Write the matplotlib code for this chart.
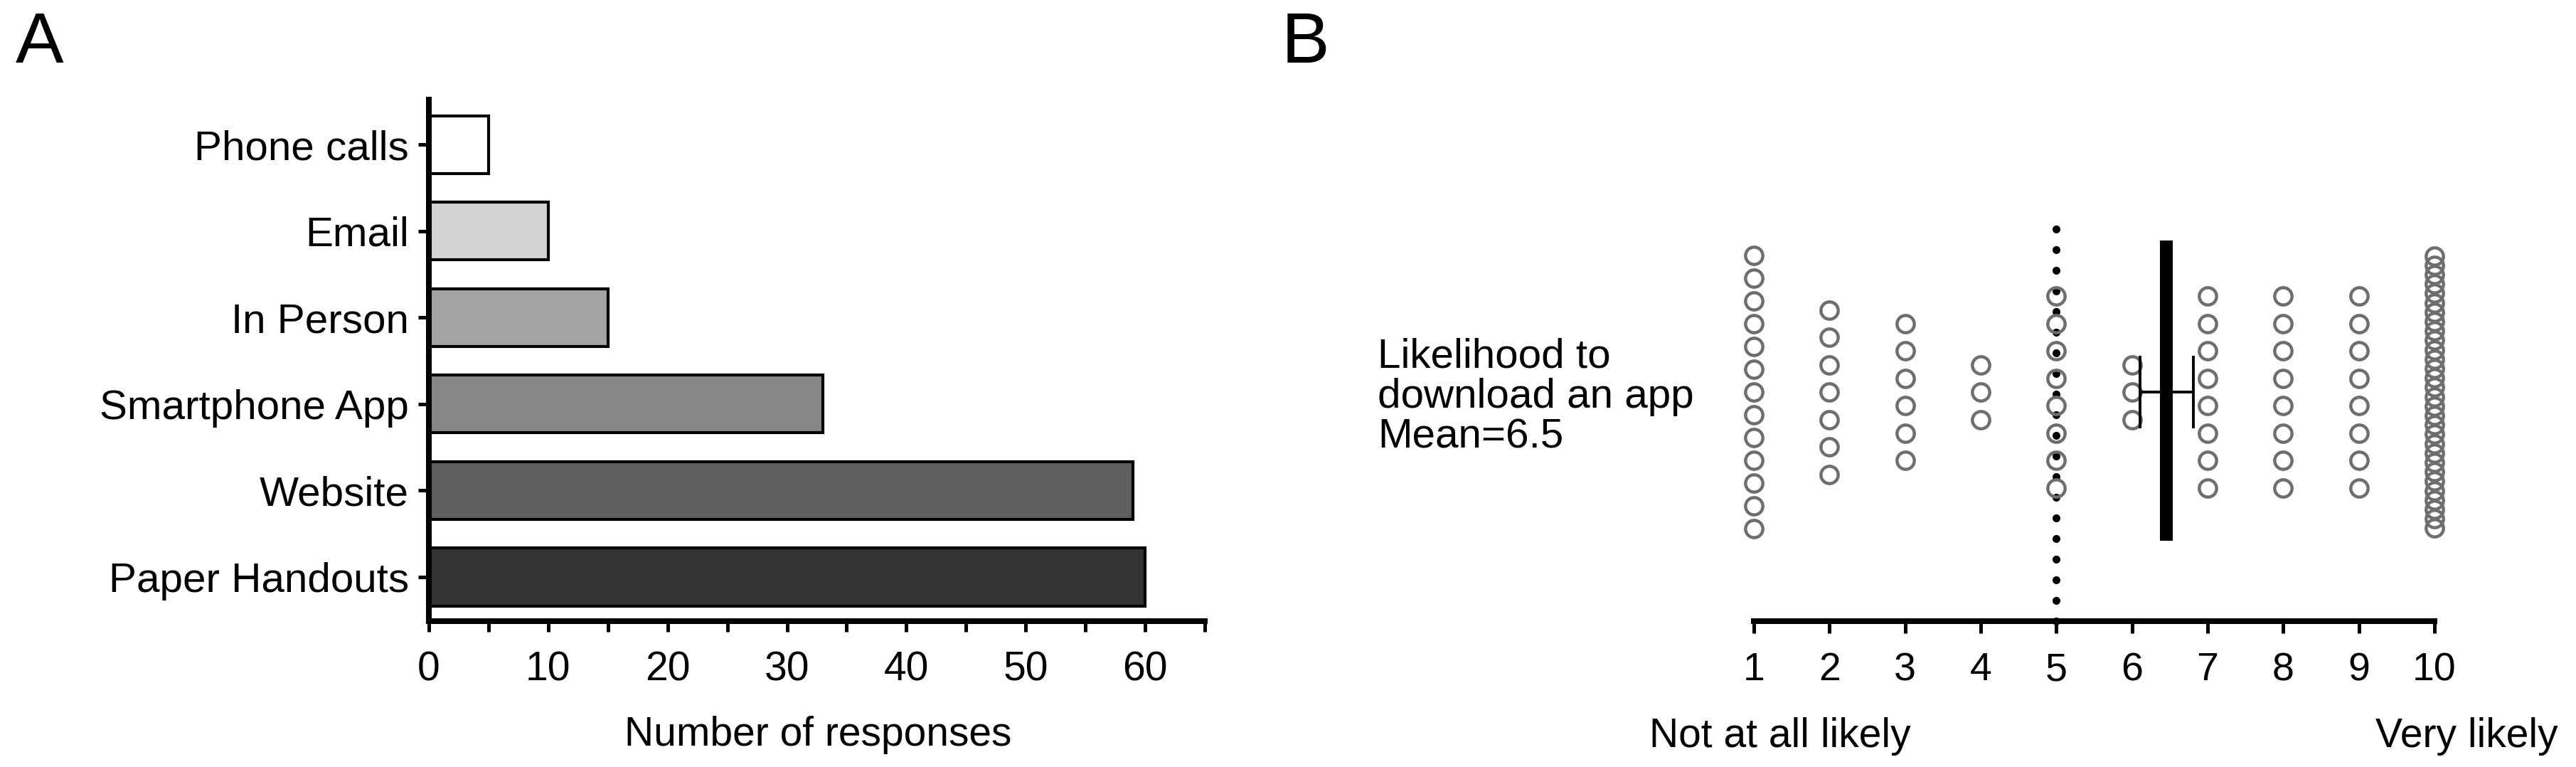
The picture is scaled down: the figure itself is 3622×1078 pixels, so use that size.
import numpy as np
import matplotlib
matplotlib.use('Agg')
import matplotlib.pyplot as plt

plt.rcParams['font.family'] = ['Liberation Sans', 'DejaVu Sans']

# panel A: preferred channel
channels = ['Phone calls', 'Email', 'In Person', 'Smartphone App', 'Website', 'Paper Handouts']
responses = [5, 10, 15, 33, 59, 60]
bar_colors = ['#ffffff', '#d4d4d4', '#a3a3a3', '#878787', '#5f5f5f', '#333333']

# panel B: likelihood to download an app (1-10), number of respondents per score
scores = [1, 2, 3, 4, 5, 6, 7, 8, 9, 10]
counts = [13, 7, 6, 3, 8, 3, 8, 8, 8, 30]

W, H = 3622, 1078
fig = plt.figure(figsize=(W / 100, H / 100), dpi=100)

# ---------------- panel A ----------------
axA = fig.add_axes([603 / W, 1 - 873 / H, 1091 / W, 733 / H])
pos = np.arange(len(channels))[::-1]
axA.barh(pos, responses, height=0.667, color=bar_colors, edgecolor='black', linewidth=3)
axA.set_xlim(0, 65)
axA.set_ylim(-0.51, 5.52)
axA.set_yticks(pos)
axA.set_yticklabels(channels, fontsize=42)
axA.set_xticks(range(0, 61, 10))
axA.set_xticks(range(5, 66, 10), minor=True)
axA.tick_params(axis='x', which='both', length=11, width=3.6, pad=19, labelsize=41)
axA.tick_params(axis='y', length=11, width=3.6, pad=9)
for s in ['top', 'right']:
    axA.spines[s].set_visible(False)
for s in ['left', 'bottom']:
    axA.spines[s].set_linewidth(5.8)
fig.text(1150 / W, 1 - 1048 / H, 'Number of responses', fontsize=41, ha='center', va='baseline')

# ---------------- panel B ----------------
axB = fig.add_axes([2402.2 / W, 1 - 873 / H, 1084.6 / W, 583 / H])
axB.set_xlim(0.4, 10.6)
axB.set_ylim(-322, 261)

values = np.repeat(scores, counts)
mean = values.mean()
sem = values.std(ddof=1) / np.sqrt(len(values))

# reference line at the midpoint of the scale
axB.plot([5, 5], [-322, 251], color='black', lw=8, linestyle=(0, (0.01, 2.6)),
         dash_capstyle='round', zorder=1, clip_on=False)

for s, c in zip(scores, counts):
    gap = 38.5
    if c > 20:
        gap = 13.2
    elif c > 10:
        gap = 32
    offsets = (np.arange(c) - (c - 1) / 2) * gap
    axB.plot(np.full(c, s), offsets, 'o', ms=17.5, mfc='none', mec='#6e6e6e',
             mew=3.2, zorder=3, clip_on=False)

axB.plot([mean, mean], [-209, 213], color='black', lw=13, solid_capstyle='butt', zorder=4)
axB.errorbar(mean, 0, xerr=sem, fmt='none', ecolor='black', elinewidth=2.8,
             capsize=37, capthick=2.8, zorder=4)

axB.set_xticks(scores)
axB.set_yticks([])
axB.tick_params(axis='x', length=12, width=3.6, pad=19, labelsize=40)
for s in ['top', 'right', 'left']:
    axB.spines[s].set_visible(False)
axB.spines['bottom'].set_linewidth(5.8)
axB.spines['bottom'].set_bounds(1, 10)

fig.text(1937 / W, 1 - 558 / H, 'Likelihood to\ndownload an app\nMean=%.1f' % mean,
         fontsize=42, ha='left', va='center', linespacing=1.05)
fig.text(2319 / W, 1 - 1050 / H, 'Not at all likely', fontsize=41, ha='left', va='baseline')
fig.text(3597 / W, 1 - 1050 / H, 'Very likely', fontsize=41, ha='right', va='baseline')

# panel letters
fig.text(22 / W, 1 - 88 / H, 'A', fontsize=73, ha='left', va='baseline')
fig.text(1802 / W, 1 - 88 / H, 'B', fontsize=73, ha='left', va='baseline')

fig.savefig('out.png', dpi=100, facecolor='white')
